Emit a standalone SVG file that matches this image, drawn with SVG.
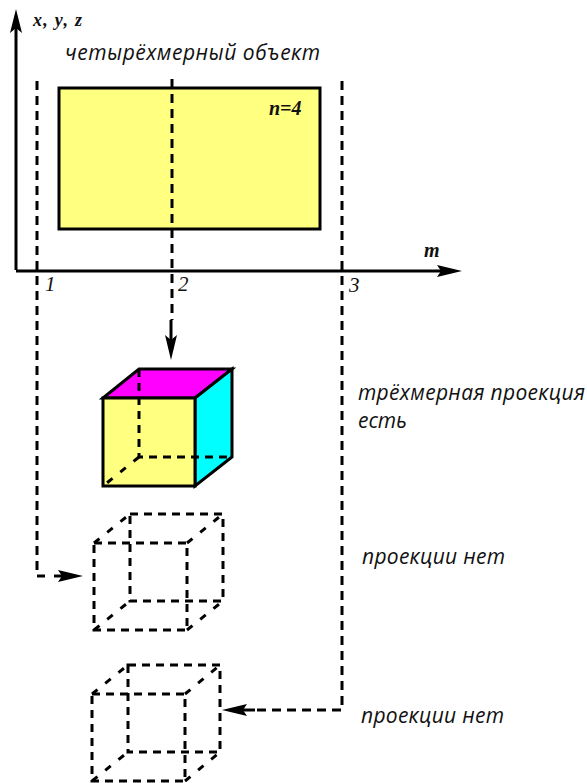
<svg xmlns="http://www.w3.org/2000/svg" width="587" height="783" viewBox="0 0 587 783">
<style>
.s{stroke:#000;stroke-width:3;fill:none}
.d{stroke:#000;stroke-width:3;fill:none;stroke-dasharray:9 6}
.c{stroke:#000;stroke-width:3;fill:none;stroke-dasharray:8 6}
.g{stroke:#000;stroke-width:3;fill:none;stroke-dasharray:7 10}
.h{fill:#000;stroke:none}
.f{stroke:#000;stroke-width:3}
.l{font-family:"Open Sans","Noto Sans",sans-serif;font-style:italic;font-size:21px;fill:#111}
.m{font-family:"Liberation Serif",serif;font-style:italic;font-weight:bold;font-size:20px;fill:#111}
.n{font-family:"Liberation Serif",serif;font-style:italic;font-size:21px;fill:#111}
</style>
<rect width="587" height="783" fill="#fff"/>
<g id="object"><rect x="59" y="88" width="261" height="141" fill="#ffff80" class="f"/></g>
<g id="cube-solid">
<polygon points="103,398 139,369 232,369 195,398" fill="#ff00ff" class="f"/>
<polygon points="195,398 232,369 232,457 195,486" fill="#00ffff" class="f"/>
<rect x="103" y="398" width="92" height="88" fill="#ffff80" class="f"/>
<path class="c" d="M139,369V457H232"/>
<path class="g" d="M139,457L103,486"/>
</g>
<g id="cube-dashed-1">
<path class="c" d="M94,543H187V630H94ZM130,514H223V601H130Z"/>
<path class="g" d="M94,543L130,514M187,543L223,514M187,630L223,601M94,630L130,601"/>
</g>
<g id="cube-dashed-2">
<path class="c" d="M92,694H185V781H92ZM128,665H220V752H128Z"/>
<path class="g" d="M92,694L128,665M185,694L220,665M185,781L220,752M92,781L128,752"/>
</g>
<g id="connectors">
<path class="s" d="M16,270V22M16,271H450"/>
<polygon class="h" points="16,9 22,33 16,28 10,33"/>
<polygon class="h" points="462,271 437,265 441,271 437,277"/>
<path class="d" d="M37,81V576H45M172,79V320M342,81V710H256"/>
<path class="s" d="M171,320V345"/>
<polygon class="h" points="171,360 165,335 171,340 177,335"/>
<path class="s" d="M54,576H70"/>
<polygon class="h" points="83,576 58,570 62,576 58,582"/>
<path class="s" d="M235,710H255"/>
<polygon class="h" points="222,710 247,704 243,710 247,716"/>
</g>
<g id="labels">
<text class="m" x="33" y="26" textLength="49" style="font-size:18px">x, y, z</text>
<text class="m" x="269" y="115">n=4</text>
<text class="l" x="65" y="60" textLength="255">четырёхмерный объект</text>
<text class="m" x="424" y="257">m</text>
<text class="n" x="45" y="291">1</text>
<text class="n" x="178" y="291">2</text>
<text class="n" x="349" y="292">3</text>
<text class="l" x="358" y="400" textLength="227">трёхмерная проекция</text>
<text class="l" x="358" y="428" textLength="49">есть</text>
<text class="l" x="362" y="564" textLength="143">проекции нет</text>
<text class="l" x="361" y="723" textLength="143">проекции нет</text>
</g>
</svg>
